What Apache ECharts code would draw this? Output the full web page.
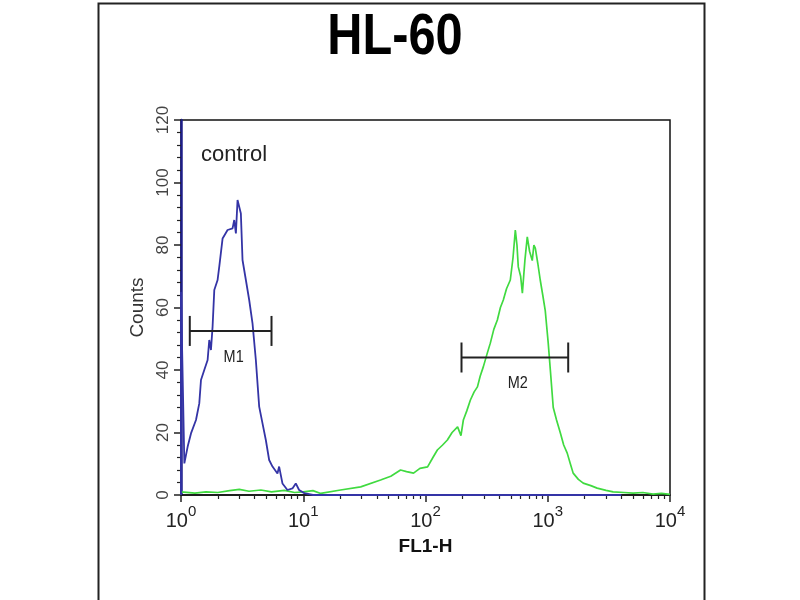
<!DOCTYPE html>
<html>
<head>
<meta charset="utf-8">
<script src="https://cdn.jsdelivr.net/npm/echarts@6/dist/echarts.min.js"></script>
<style>html,body{margin:0;padding:0;background:#fff;}#chart{width:800px;height:600px;}</style>
</head>
<body>
<div id="chart"></div>
<script>
// ---- data ----
const chartTitle = 'HL-60';
const xTickValues = [1, 10, 100, 1000, 10000];
const xTickExponents = ['0', '1', '2', '3', '4'];
const xMinorTicks = [2,3,4,5,6,7,8,9, 20,30,40,50,60,70,80,90, 200,300,400,500,600,700,800,900, 2000,3000,4000,5000,6000,7000,8000,9000];
const yTickLabels = [0, 20, 40, 60, 80, 100, 120];

// control (blue) histogram: [FL1-H, counts]
const controlData = [
  [1, 0], [1, 65], [1.065, 10.1], [1.134, 15.5], [1.207, 19.7], [1.326, 24], [1.411, 29.3],
  [1.457, 36.8], [1.55, 40], [1.651, 43.2], [1.703, 49.6], [1.758, 46.4], [1.813, 53.9],
  [1.872, 65.6], [1.992, 68.8], [2.056, 73.1], [2.189, 82.1], [2.404, 84.8], [2.642, 85.3],
  [2.725, 88], [2.812, 83.7], [2.901, 94.4], [3.088, 90.1], [3.186, 75.2], [3.394, 68.8],
  [3.613, 62.4], [3.846, 54.9], [4.095, 43.2], [4.36, 28.3], [4.642, 22.9], [4.942, 17.6],
  [5.261, 11.2], [5.602, 9.1], [6.153, 6.9], [6.349, 9.1], [6.759, 3.7], [7.425, 1.6],
  [8.157, 2.1], [8.687, 3.7], [9.247, 1.6], [10.2, 0.6], [12, 0], [4000, 0]
];

// HL-60 sample (green) histogram
const sampleData = [
  [1, 1], [1.3, 0.6], [1.6, 1], [2, 0.8], [2.5, 1.4], [3, 1.8], [3.6, 1.2], [4.5, 1.6],
  [5.5, 1], [7, 1.5], [8.5, 0.8], [10, 1], [12, 1.4], [13.9, 0.5], [20.2, 1.6], [29.5, 2.6],
  [42.9, 4.8], [52, 6], [62.5, 8], [70, 7.5], [79.8, 7], [90, 8.5], [104, 9], [115, 12],
  [125, 14.4], [138, 16], [151, 17.6], [165, 20], [183, 21.8], [195, 19], [204, 24], [218, 27],
  [233, 30.4], [250, 33], [266, 34.6], [280, 38], [297, 41], [318, 45], [339, 48.6], [362, 53],
  [387, 56], [410, 60], [433, 62.4], [460, 66], [494, 68.8], [520, 76], [543, 84.8], [560, 80],
  [574, 73], [600, 70], [620, 64.6], [650, 75], [680, 82.6], [710, 78], [747, 75], [770, 80],
  [791, 79], [830, 74], [868, 68.8], [910, 64], [954, 59], [980, 54], [1009, 48.6], [1050, 40],
  [1109, 28], [1180, 24], [1265, 20], [1350, 16], [1443, 13.4], [1530, 10], [1614, 7],
  [1780, 5], [1950, 3.8], [2250, 3], [2535, 2.2], [3000, 1.5], [3425, 1], [4200, 0.8],
  [4990, 0.6], [6000, 0.8], [7265, 0.3], [8500, 0.5], [10000, 0.2]
];

// gate markers
const markerNames = ['M1', 'M2'];
const markerStart = [1.18, 197];
const markerEnd = [5.5, 1470];
const markerLevel = [52.5, 44];

const controlLabel = 'control';
const xAxisName = 'FL1-H';
const yAxisName = 'Counts';

// ---- chart ----
const chart = echarts.init(document.getElementById('chart'), null, {renderer: 'canvas'});
const sans = "'Liberation Sans', Arial, sans-serif";

const markerData = markerNames.map((n, i) => [markerStart[i], markerEnd[i], markerLevel[i]]);

const option = {
  animation: false,
  backgroundColor: '#fff',
  grid: {left: 181, right: 130, top: 120, bottom: 105, show: true, borderColor: '#111', borderWidth: 1.5, backgroundColor: 'transparent'},
  xAxis: [{
    type: 'log', logBase: 10, min: 1, max: 10000,
    name: xAxisName, nameLocation: 'middle', nameGap: 42,
    nameTextStyle: {fontSize: 19, fontWeight: 'bold', fontFamily: sans, color: '#111'},
    axisLine: {show: true, onZero: false, lineStyle: {color: '#111', width: 1.5}},
    axisTick: {show: true, length: 7, customValues: xTickValues, lineStyle: {color: '#222', width: 1.5}},
    axisLabel: {
      show: true, margin: 14, customValues: xTickValues,
      formatter: function (v) {
        const i = xTickValues.indexOf(v);
        const e = i >= 0 ? xTickExponents[i] : String(Math.round(Math.log10(v)));
        return '{b|10}{s|' + e + '}';
      },
      rich: {
        b: {fontSize: 20, fontFamily: sans, color: '#222', verticalAlign: 'bottom', lineHeight: 22},
        s: {fontSize: 15, fontFamily: sans, color: '#222', verticalAlign: 'bottom', lineHeight: 15, padding: [0, 0, 12, 0]}
      }
    },
    splitLine: {show: false}
  }, {
    type: 'log', logBase: 10, min: 1, max: 10000, gridIndex: 0, position: 'bottom', offset: 0,
    axisLine: {show: false},
    axisTick: {show: true, length: 4, customValues: xMinorTicks, lineStyle: {color: '#222', width: 1.2}},
    axisLabel: {show: false},
    splitLine: {show: false}
  }],
  yAxis: {
    type: 'value', min: 0, max: 120, interval: 20,
    name: yAxisName, nameLocation: 'middle', nameGap: 34, nameRotate: 90,
    nameTextStyle: {fontSize: 19, fontFamily: sans, color: '#333'},
    axisLine: {show: true, lineStyle: {color: '#1e1e88', width: 2.5}},
    axisTick: {show: true, length: 7, lineStyle: {color: '#222', width: 1.5}},
    minorTick: {show: true, splitNumber: 5, length: 4, lineStyle: {color: '#222', width: 1.2}},
    axisLabel: {
      rotate: 90, margin: 9, fontSize: 17, fontFamily: sans, color: '#444',
      formatter: function (v) { return yTickLabels.indexOf(v) >= 0 ? String(v) : ''; }
    },
    splitLine: {show: false}
  },
  series: [{
    name: 'HL-60', type: 'line', xAxisIndex: 0, data: sampleData, symbol: 'none', smooth: false,
    lineStyle: {color: '#40da40', width: 1.7}, z: 2
  }, {
    name: 'control', type: 'line', xAxisIndex: 0, data: controlData, symbol: 'none', smooth: false,
    lineStyle: {color: '#3434a6', width: 1.8}, z: 3
  }, {
    name: 'markers', type: 'custom', xAxisIndex: 0, data: markerData, z: 4,
    encode: {x: [0, 1], y: 2},
    renderItem: function (params, api) {
      const s = api.coord([api.value(0), api.value(2)]);
      const e = api.coord([api.value(1), api.value(2)]);
      const st = {stroke: '#222', lineWidth: 2};
      return {
        type: 'group',
        children: [
          {type: 'line', shape: {x1: s[0], y1: s[1], x2: e[0], y2: e[1]}, style: st},
          {type: 'line', shape: {x1: s[0], y1: s[1] - 15, x2: s[0], y2: s[1] + 15}, style: st},
          {type: 'line', shape: {x1: e[0], y1: e[1] - 15, x2: e[0], y2: e[1] + 15}, style: st},
          {type: 'text', x: (s[0] + e[0]) / 2 + 3, y: s[1] + 26, scaleX: 0.85,
           style: {text: markerNames[params.dataIndex], fill: '#222', fontSize: 17, fontFamily: sans,
                   textAlign: 'center', textVerticalAlign: 'middle'}}
        ]
      };
    }
  }],
  graphic: [{
    type: 'rect', left: 96, top: 1, silent: true, z: 100,
    shape: {x: 0, y: 0, width: 606, height: 620},
    style: {fill: 'none', stroke: '#222', lineWidth: 2}
  }, {
    type: 'text', x: 395, y: 38, scaleX: 0.84, z: 100,
    style: {text: chartTitle, fontSize: 58, fontWeight: 'bold', fontFamily: sans, fill: '#000',
            textAlign: 'center', textVerticalAlign: 'middle'}
  }, {
    type: 'text', left: 201, top: 144, z: 100,
    style: {text: controlLabel, fontSize: 22, fontFamily: sans, fill: '#222'}
  }]
};
chart.setOption(option);
</script>
</body>
</html>
